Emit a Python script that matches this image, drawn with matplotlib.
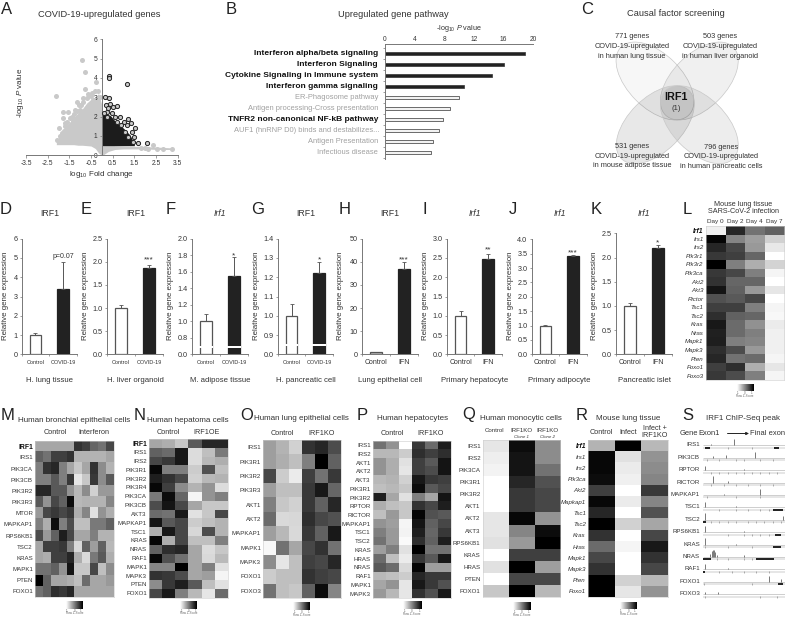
import numpy as np
import matplotlib
matplotlib.use('Agg')
import matplotlib.pyplot as plt
from matplotlib.patches import Ellipse

plt.rcParams['font.family'] = ['Liberation Sans', 'DejaVu Sans']
plt.rcParams['mathtext.fontset'] = 'custom'
plt.rcParams['mathtext.rm'] = 'Liberation Sans'
plt.rcParams['mathtext.it'] = 'Liberation Sans:italic'
plt.rcParams['mathtext.bf'] = 'Liberation Sans:bold'

W, H = 787, 622
TXT = '#333333'
AXC = '#777777'

# --- volcano (A) ---
gray_x = [-2.1, -1.9, -1.7, -1.5, -1.3, -1.1, -0.9, -0.7, -0.5, -0.3, -0.15, 0.0, 0.1, 0.3, 0.6, 1.0, 2.0, 2.6, 3.3]
gray_top = [0.7, 1.1, 1.5, 1.7, 1.95, 2.2, 2.4, 2.7, 2.9, 3.0, 3.2, 2.6, 0.6, 0.55, 0.5, 0.48, 0.45, 0.42, 0.38]
gray_low = [0.55, 0.55, 0.55, 0.55, 0.55, 0.52, 0.52, 0.5, 0.48, 0.35, 0.12, 0.0, 0.05, 0.2, 0.3, 0.33, 0.33, 0.3, 0.3]
gray_px = [-0.92, -0.78, -2.12, -0.27, -0.78, -0.32, -0.16, -0.62, -1.13, -0.86, -1.81, -1.55, -1.81, -1.96, -2.06,
           -1.86, -1.24, -1.01, -0.39, -1.47, -1.7, 2.38, 2.84, 3.26, 2.56, 2.14, -0.5, -0.95, -0.1, 1.8, 2.0,
           -1.95, -1.75, -1.6, -1.4, -1.3, -1.15, -1.05, -0.85, -0.7, -0.55, -0.45, -1.9, -1.7, -1.35]
gray_py = [4.93, 4.33, 3.07, 3.81, 3.43, 3.34, 3.34, 3.15, 2.78, 2.95, 2.26, 2.26, 1.91, 1.4, 0.8,
           1.14, 2.34, 2.34, 2.86, 1.91, 1.66, 0.53, 0.33, 0.34, 0.33, 0.33, 3.05, 2.62, 3.0, 0.4, 0.38,
           1.0, 1.25, 1.7, 2.0, 2.15, 2.3, 2.6, 2.75, 2.95, 3.1, 3.2, 0.75, 1.5, 1.8]
black_x = [0.03, 0.2, 0.4, 0.7, 1.0, 1.3, 1.5]
black_top = [2.1, 2.15, 2.05, 1.65, 1.4, 1.05, 0.6]
black_low = [0.5, 0.5, 0.5, 0.5, 0.5, 0.5, 0.5]
black_px = [0.35, 0.35, 1.15, 0.15, 0.31, 0.2, 0.38, 0.53, 0.72, 0.25, 1.22, 0.84, 1.33, 1.53, 1.15, 1.38, 1.48,
            1.68, 2.07, 1.45, 1.0, 0.68, 0.61, 0.22, 1.07, 1.22, 0.45, 0.9, 0.3, 0.12]
black_py = [4.1, 3.98, 3.69, 3.03, 2.97, 2.6, 2.65, 2.52, 2.55, 2.26, 1.86, 1.97, 1.65, 1.43, 1.57, 1.22, 0.97,
            0.66, 0.62, 0.71, 1.74, 1.74, 1.97, 2.0, 1.22, 0.97, 2.2, 1.55, 2.45, 2.2]

# --- pathway (B) ---
path_names = ['Interferon alpha/beta signaling', 'Interferon Signaling', 'Cytokine Signaling in Immune system',
              'Interferon gamma signaling', 'ER-Phagosome pathway', 'Antigen processing-Cross presentation',
              'TNFR2 non-canonical NF-kB pathway', 'AUF1 (hnRNP D0) binds and destabilizes...',
              'Antigen Presentation', 'Infectious disease']
path_vals = [18.9, 16.1, 14.4, 10.6, 10.0, 8.75, 7.8, 7.3, 6.5, 6.2]
path_bold = [1, 1, 1, 1, 0, 0, 1, 0, 0, 0]
path_dark = [1, 1, 1, 1, 0, 0, 0, 0, 0, 0]

# --- bars (D-K) ---
d_vals, d_errs = [1.0, 3.38], [1.1, 4.8]
e_vals, e_errs = [1.0, 1.87], [1.06, 1.93]
f_vals, f_errs = [1.0, 1.55], [1.09, 1.78]
g_vals, g_errs = [1.0, 1.22], [1.06, 1.28]
h_vals, h_errs = [1.0, 36.7], [1.0, 40.0]
i_vals, i_errs = [1.0, 2.48], [1.12, 2.6]
j_vals, j_errs = [1.0, 3.42], [1.03, 3.47]
k_vals, k_errs = [1.0, 2.19], [1.05, 2.25]

# --- heatmaps, percent darkness ---
l_genes = ['Irf1', 'Irs1', 'Irs2', 'Pik3r1', 'Pik3r2', 'Pik3ca', 'Akt2', 'Akt3', 'Rictor', 'Tsc1', 'Tsc2', 'Kras',
           'Nras', 'Mapk1', 'Mapk3', 'Pten', 'Foxo1', 'Foxo3']
l_vals = [[6, 85, 55, 62], [98, 48, 38, 18], [85, 72, 40, 9], [78, 75, 60, 0], [100, 50, 32, 17], [78, 72, 50, 4],
          [80, 60, 60, 0], [92, 62, 40, 10], [68, 65, 72, 0], [75, 75, 50, 4], [82, 62, 60, 3], [90, 58, 43, 8],
          [87, 58, 50, 6], [88, 50, 48, 6], [82, 70, 40, 6], [85, 55, 58, 4], [75, 82, 32, 10], [78, 70, 50, 4]]
m_genes = ['IRF1', 'IRS1', 'PIK3CA', 'PIK3CB', 'PIK3R2', 'PIK3R3', 'MTOR', 'MAPKAP1', 'RPS6KB1', 'TSC2', 'KRAS',
           'MAPK1', 'PTEN', 'FOXO1']
m_vals = [[35, 35, 35, 35, 35, 80, 75, 60, 55, 72],
          [62, 55, 75, 75, 80, 30, 30, 30, 30, 35],
          [50, 80, 85, 50, 35, 22, 35, 80, 45, 30],
          [50, 50, 65, 50, 78, 10, 22, 78, 45, 65],
          [85, 85, 65, 65, 42, 28, 45, 18, 40, 40],
          [65, 42, 72, 62, 95, 28, 30, 30, 30, 48],
          [40, 72, 78, 72, 78, 32, 48, 12, 42, 32],
          [50, 32, 95, 50, 70, 25, 25, 52, 52, 62],
          [70, 40, 62, 88, 72, 35, 35, 50, 30, 30],
          [35, 75, 75, 78, 50, 15, 62, 38, 62, 28],
          [35, 32, 75, 75, 85, 32, 15, 52, 65, 32],
          [55, 55, 62, 42, 92, 22, 22, 72, 25, 45],
          [100, 62, 35, 35, 32, 25, 58, 35, 35, 40],
          [55, 62, 82, 78, 85, 35, 35, 35, 35, 35]]
n_genes = ['IRF1', 'IRS1', 'IRS2', 'PIK3R1', 'PIK3R2', 'PIK3R4', 'PIK3CA', 'PIK3CB', 'AKT3', 'MAPKAP1', 'TSC1', 'KRAS',
           'NRAS', 'RAF1', 'MAPK1', 'MAPK3', 'PTEN', 'FOXO1']
n_vals = [[35, 32, 22, 65, 85, 85], [62, 58, 90, 14, 25, 52], [72, 78, 90, 14, 28, 32], [97, 50, 50, 20, 68, 25],
          [88, 80, 72, 18, 28, 30], [97, 75, 45, 30, 42, 14], [52, 95, 60, 4, 42, 50], [70, 92, 72, 35, 22, 22],
          [58, 55, 90, 12, 22, 72], [92, 65, 72, 20, 25, 30], [32, 90, 72, 16, 70, 30], [98, 32, 72, 25, 25, 50],
          [62, 82, 85, 35, 14, 22], [97, 68, 55, 35, 15, 27], [48, 48, 100, 35, 50, 12], [80, 78, 70, 35, 38, 4],
          [45, 78, 88, 65, 25, 12], [72, 90, 50, 28, 10, 58]]
o_genes = ['IRS1', 'PIK3R1', 'PIK3R2', 'PIK3R3', 'AKT1', 'AKT2', 'MAPKAP1', 'MAPK1', 'MAPK3', 'FOXO1', 'FOXO3']
o_vals = [[38, 30, 18, 80, 85, 70], [38, 32, 25, 50, 100, 62], [72, 20, 8, 75, 55, 78], [38, 25, 25, 78, 90, 60],
          [50, 22, 18, 78, 62, 85], [58, 15, 16, 82, 72, 68], [38, 28, 15, 78, 62, 90], [3, 55, 35, 72, 80, 55],
          [45, 10, 25, 75, 72, 85], [20, 25, 25, 80, 75, 72], [55, 25, 22, 62, 95, 48]]
p_genes = ['IRS1', 'IRS2', 'AKT1', 'AKT2', 'AKT3', 'PIK3R1', 'PIK3R2', 'RPTOR', 'RICTOR', 'MAPKAP1', 'TSC1', 'TSC2',
           'KRAS', 'HRAS', 'NRAS', 'RAF1', 'MAPK1', 'MAPK3']
p_vals = [[55, 42, 0, 78, 58, 88], [28, 28, 20, 82, 75, 82], [42, 32, 12, 75, 65, 92], [42, 32, 10, 75, 70, 92],
          [28, 30, 18, 90, 78, 75], [25, 28, 22, 95, 65, 72], [88, 35, 12, 50, 35, 92], [32, 25, 22, 80, 72, 88],
          [25, 40, 22, 98, 68, 65], [42, 38, 4, 92, 62, 72], [50, 40, 5, 88, 60, 78], [55, 40, 2, 82, 62, 88],
          [38, 50, 12, 100, 55, 55], [58, 25, 8, 78, 65, 90], [65, 58, 15, 98, 38, 38], [28, 25, 20, 85, 78, 78],
          [35, 42, 10, 90, 78, 68], [40, 28, 10, 80, 68, 90]]
q_genes = ['IRS1', 'IRS2', 'PIK3CA', 'PIK3R1', 'PIK3R2', 'AKT1', 'AKT2', 'AKT3', 'RPS6KB1', 'KRAS', 'HRAS', 'PTEN',
           'FOXO1']
q_vals = [[10, 95, 45], [7, 92, 45], [5, 92, 55], [0, 85, 68], [0, 78, 72], [0, 78, 72], [10, 97, 42], [10, 48, 95],
          [12, 40, 100], [0, 75, 75], [12, 100, 38], [0, 72, 72], [22, 100, 28]]
r_genes = ['Irf1', 'Irs1', 'Irs2', 'Pik3ca', 'Akt2', 'Mapkap1', 'Tsc1', 'Tsc2', 'Kras', 'Hras', 'Mapk1', 'Mapk3',
           'Pten', 'Foxo1']
r_vals = [[30, 100, 28], [97, 12, 42], [97, 8, 45], [95, 6, 48], [75, 0, 78], [97, 8, 48], [85, 0, 68], [100, 18, 35],
          [80, 0, 72], [58, 4, 90], [72, 0, 80], [80, 0, 72], [100, 18, 28], [100, 10, 42]]

# --- ChIP-seq tracks (S) ---
s_genes = ['IRS1', 'PIK3CB', 'RPTOR', 'RICTOR', 'MAPKAP1', 'TSC1', 'TSC2', 'RPS6KB1', 'KRAS', 'NRAS', 'RAF1', 'FOXO1',
           'FOXO3']
s_peaks = [[(0.38, 0.5), (0.1, 0.1)], [(0.63, 0.45), (0.28, 0.2), (0.12, 0.1)], [(0.02, 0.3), (0.5, 0.1)],
           [(0.12, 0.5), (0.3, 0.1)], [(0.70, 0.5), (0.25, 0.1)], [(0.02, 0.45), (0.4, 0.08)],
           [(0.03, 0.55), (0.98, 0.3)], [(0.02, 0.5), (0.5, 0.1)], [(0.02, 0.5), (0.4, 0.08)],
           [(0.09, 0.25), (0.11, 0.5), (0.12, 0.6), (0.13, 0.6), (0.15, 0.4), (0.17, 0.2), (0.5, 0.15)],
           [(0.02, 0.45), (0.3, 0.08)], [(0.8, 0.45), (0.95, 0.2)], [(0.18, 0.2), (0.02, 0.15)]]
s_blocks = [[(0.02, 0.08), (0.87, 0.93)], [], [], [], [], [(0.85, 0.97)], [(0.0, 0.04)], [(0.88, 0.95)], [(0.85, 0.95)],
            [(0.0, 0.1), (0.65, 0.87)], [(0.0, 0.03)], [(0.92, 0.97)], []]
s_exons = [[0.3, 0.6], [0.05, 0.2, 0.4, 0.5, 0.7, 0.85], [0.1, 0.2, 0.3, 0.4, 0.5, 0.6, 0.7, 0.8, 0.9],
           [0.1, 0.25, 0.4, 0.55, 0.7, 0.85], [0.05, 0.4, 0.7], [0.2, 0.4, 0.55, 0.7, 0.8],
           [0.1, 0.2, 0.3, 0.4, 0.55, 0.65, 0.75, 0.85, 0.95], [0.3, 0.5, 0.6, 0.7, 0.8],
           [0.02, 0.3, 0.6], [0.17, 0.3, 0.5, 0.6], [0.2, 0.35, 0.5, 0.65, 0.8], [0.01, 0.6], [0.02, 0.7, 0.9]]


fig = plt.figure(figsize=(W / 100, H / 100), dpi=100, facecolor='white')


def pax(x0, y0, x1, y1):
    # axes from a pixel box, y counted from the top like in the image
    return fig.add_axes([x0 / W, 1 - y1 / H, (x1 - x0) / W, (y1 - y0) / H])


over = fig.add_axes([0, 0, 1, 1], zorder=20)
over.set_xlim(0, W)
over.set_ylim(H, 0)
over.axis('off')
over.patch.set_alpha(0)


def txt(x, y, s, size=5.5, ha='center', color=TXT, **kw):
    over.text(x, y, s, fontsize=size, ha=ha, va='center', color=color, **kw)


def thin_spines(ax, show=('left', 'bottom')):
    for k, sp in ax.spines.items():
        sp.set_visible(k in show)
        sp.set_color(AXC)
        sp.set_linewidth(0.7)
    ax.patch.set_alpha(0)


for letter, x, y in [('A', 1, 9), ('B', 226, 9), ('C', 581, 9), ('D', 0, 209), ('E', 81, 209), ('F', 166, 209),
                     ('G', 251, 209), ('H', 339, 209), ('I', 423, 209), ('J', 509, 209), ('K', 591, 209),
                     ('L', 683, 209), ('M', 1, 416), ('N', 134, 416), ('O', 240, 416), ('P', 357, 415),
                     ('Q', 462, 415), ('R', 576, 415), ('S', 682, 415)]:
    txt(x, y, letter, size=12, ha='left', color='#222222')

# panel A
ax = pax(26, 39.3, 177.7, 155.3)
ax.set_xlim(-3.5, 3.5)
ax.set_ylim(0, 6)
thin_spines(ax)
ax.spines['left'].set_position(('data', 0))
ax.fill_between(gray_x, gray_low, gray_top, color='#c9c9c9', lw=0, zorder=1)
ax.scatter(gray_px, gray_py, s=13, color='#c9c9c9', lw=0, zorder=2)
ax.fill_between(black_x, black_low, black_top, color='#1c1c1c', lw=0, zorder=3)
ax.scatter(black_px, black_py, s=9, facecolor='#c9c9c9', edgecolor='#222222', lw=0.7, zorder=4)
ax.set_xticks(np.arange(-3.5, 3.6, 1))
ax.set_xticklabels(['-3.5', '-2.5', '-1.5', '-0.5', '0.5', '1.5', '2.5', '3.5'])
ax.set_yticks(range(7))
ax.tick_params(colors=TXT, labelsize=4.8, length=1.8, width=0.5, pad=1.5, color=AXC)
txt(99.5, 14.5, 'COVID-19-upregulated genes', size=6.7)
txt(102, 175, 'log$_{10}$ Fold change', size=5.8)
txt(20.5, 93, '-log$_{10}$ $P$ value', size=5.8, rotation=90)

# panel B
ax = pax(385, 44, 533.3, 159)
ax.set_xlim(0, 20)
ax.set_ylim(9.57, -0.88)
thin_spines(ax, ('left', 'top'))
ax.barh(range(10), path_vals, height=0.32, color=['#222222' if d else '#f2f2f2' for d in path_dark],
        edgecolor='#333333', lw=0.5)
ax.set_xticks(range(0, 21, 4))
ax.xaxis.tick_top()
ax.set_yticks(np.arange(-0.5, 10, 1))
ax.set_yticklabels([])
ax.tick_params(axis='y', length=1.8, width=0.5, color=AXC)
ax.tick_params(axis='x', colors=TXT, labelsize=4.8, length=0, pad=0.8)
for i, name in enumerate(path_names):
    if path_bold[i]:
        txt(378, 53.7 + 10.97 * i, name, size=6.05, ha='right', color='#111111', weight='bold')
    else:
        txt(380 if i == 7 else 378, 53.7 + 10.97 * i, name, size=5.4, ha='right', color='#a0a0a0')
txt(393, 14.3, 'Upregulated gene pathway', size=6.7)
txt(459, 29, '-log$_{10}$ $P$ value', size=5.2)

# panel C
for (cx, cy, ang, alpha) in [(655, 81, 45, 0.03), (699.3, 81, -45, 0.06), (655.3, 124.7, -45, 0.09),
                             (699.3, 124.7, 45, 0.07)]:
    over.add_patch(Ellipse((cx, cy), 96, 54, angle=ang, facecolor=(0, 0, 0, alpha), edgecolor='#c8c8c8', lw=0.5))
txt(676, 14, 'Causal factor screening', size=6.7)
for x, ys, lines in [(632, (37, 46.5, 56), ('771 genes', 'COVID-19-upregulated', 'in human lung tissue')),
                     (720, (37, 46.5, 56), ('503 genes', 'COVID-19-upregulated', 'in human liver organoid')),
                     (632.5, (146.7, 156, 165.5), ('531 genes', 'COVID-19-upregulated', 'in mouse adipose tissue')),
                     (721, (147.7, 157, 166.7), ('796 genes', 'COVID-19-upregulated', 'in human pancreatic cells'))]:
    for y, s in zip(ys, lines):
        txt(x, y, s, size=5.3)
txt(676, 97.5, 'IRF1', size=7.8, weight='bold', color='#111111')
txt(676, 108, '(1)', size=5.5)


# panels D-K
def bars(x0, x1, top, bottom, vals, errs, ylim, ticks, ticklabels, xnames, title, sub, mark, mark_y, small=False,
         italic=False, brk=None, ctrl_color='white', label_x=None):
    ax = pax(x0, top, x1, bottom)
    ax.set_xlim(0, 2)
    ax.set_ylim(*ylim)
    thin_spines(ax)
    ax.bar([0.5, 1.5], vals, width=0.42, color=[ctrl_color, '#222222'], edgecolor=['#555555', '#222222'], lw=0.9)
    ax.errorbar([0.5, 1.5], vals, yerr=[[0, 0], [e - v for e, v in zip(errs, vals)]], fmt='none', ecolor='#555555',
                elinewidth=0.7, capsize=1.2, capthick=0.6)
    if brk:
        ax.bar([0.5, 1.5], brk[1] - brk[0], bottom=brk[0], width=0.5, color='white', lw=0)
    ax.set_xticks([0, 1, 2])
    ax.set_xticklabels([])
    ax.set_yticks(ticks)
    ax.set_yticklabels(ticklabels)
    ax.tick_params(axis='y', colors=TXT, labelsize=5.2, length=1.8, width=0.5, pad=1.2, color=AXC)
    ax.tick_params(axis='x', length=1.5, width=0.5, color=AXC)
    xc = (x0 + x1) / 2
    for off, name in zip((-0.25, 0.25), xnames):
        txt(xc + off * (x1 - x0), 362, name, size=4.0 if small else 5.0)
    txt(xc + 0.5, 213, title, size=6.3, style='italic' if italic else 'normal')
    txt(xc + 0.5, 380, sub, size=5.6)
    txt(label_x if label_x else x0 - 21.5, 296, 'Relative gene expression', size=5.7, rotation=90)
    txt(xc + 0.25 * (x1 - x0), mark_y, mark, size=5 if mark[0] == 'p' else 6)


cc = ['Control', 'COVID-19']
ci = ['Control', 'IFN']
bars(21.7, 76.7, 238.7, 354.3, d_vals, d_errs, (0, 6), range(7), [str(t) for t in range(7)], cc, 'IRF1',
     'H. lung tissue', 'p=0.07', 256.7, small=True, label_x=6)
bars(106.7, 163, 238.7, 354.3, e_vals, e_errs, (0, 2.5), [0, .5, 1, 1.5, 2, 2.5],
     ['0.0', '0.5', '1.0', '1.5', '2.0', '2.5'], cc, 'IRF1', 'H. liver organoid', '***', 259.7, small=True)
# F and G have a broken y axis, so values go through the offset below
bars(191.7, 248, 238.7, 354.3, [(v - 0.6) / 0.2 for v in f_vals], [(v - 0.6) / 0.2 for v in f_errs], (0, 7), range(8),
     ['0.0', '0.8', '1.0', '1.2', '1.4', '1.6', '1.8', '2.0'], cc, 'Irf1', 'M. adipose tissue', '*', 256, small=True,
     italic=True, brk=(0.38, 0.52))
bars(277.7, 333, 238.7, 354.3, [(v - 0.8) / 0.1 for v in g_vals], [(v - 0.8) / 0.1 for v in g_errs], (0, 6), range(7),
     ['0.0', '0.9', '1.0', '1.1', '1.2', '1.3', '1.4'], cc, 'IRF1', 'H. pancreatic cell', '*', 259.7, small=True,
     brk=(0.42, 0.56))
bars(361.7, 417.7, 238.7, 354.3, h_vals, h_errs, (0, 50), range(0, 51, 10), [str(t) for t in range(0, 51, 10)], ci,
     'IRF1', 'Lung epithelial cell', '***', 260.3, ctrl_color='#bbbbbb')
bars(446.7, 502, 238.7, 354.3, i_vals, i_errs, (0, 3), [0, .5, 1, 1.5, 2, 2.5, 3],
     ['0.0', '0.5', '1.0', '1.5', '2.0', '2.5', '3.0'], ci, 'Irf1', 'Primary hepatocyte', '**', 250.3, italic=True)
bars(531.5, 586.7, 239.3, 354.3, j_vals, j_errs, (0, 4), np.arange(0, 4.1, 0.5),
     ['0.0', '0.5', '1.0', '1.5', '2.0', '2.5', '3.0', '3.5', '4.0'], ci, 'Irf1', 'Primary adipocyte', '***', 253,
     italic=True)
bars(616, 671.7, 233.3, 354.3, k_vals, k_errs, (0, 2.5), [0, .5, 1, 1.5, 2, 2.5],
     ['0.0', '0.5', '1.0', '1.5', '2.0', '2.5'], ci, 'Irf1', 'Pancreatic islet', '*', 243, italic=True)


# heatmaps L-R
def heat(box, vals, genes, italic=False, bar=None):
    x0, y0, x1, y1 = box
    ax = pax(x0, y0, x1, y1)
    ax.imshow(np.array(vals), cmap='gray_r', vmin=0, vmax=100, aspect='auto', interpolation='nearest')
    ax.set_xticks([])
    ax.set_yticks(range(len(genes)))
    ax.set_yticklabels(genes)
    ax.tick_params(axis='y', length=0, pad=1.5, labelsize=4.4, labelcolor=TXT)
    for lab in ax.get_yticklabels():
        if italic:
            lab.set_style('italic')
    first = ax.get_yticklabels()[0]
    if genes[0] in ('IRF1', 'Irf1'):
        first.set_weight('bold')
        first.set_color('#111111')
        first.set_fontsize(4.9)
    for sp in ax.spines.values():
        sp.set_color('#cccccc')
        sp.set_linewidth(0.4)
    if bar:
        cb = pax(*bar)
        cb.imshow(np.linspace(0, 100, 32)[None, :], cmap='gray_r', vmin=0, vmax=100, aspect='auto')
        cb.axis('off')
        bx = (bar[0] + bar[2]) / 2
        w = bar[2] - bar[0]
        for off, s in zip((-0.4, 0, 0.4), ('-1', '0', '1')):
            txt(bx + off * w, bar[3] + 2.3, s, size=2.2, color='#666666')
        txt(bx, bar[3] + 5, 'Row Z-Score', size=2.2, color='#666666')


heat((705.7, 226, 784, 380), l_vals, l_genes, italic=True, bar=(736.7, 384, 753, 391))
heat((35, 440.7, 114, 597), m_vals, m_genes, bar=(65.7, 601, 82.7, 608.5))
heat((149, 439, 228, 597.7), n_vals, n_genes, bar=(180, 601, 197, 608.5))
heat((263, 440, 341, 598), o_vals, o_genes, bar=(293, 602, 310, 610))
heat((373, 440.7, 451, 598), p_vals, p_genes, bar=(403, 601, 421, 609))
heat((482.7, 440, 560, 597), q_vals, q_genes, bar=(513, 602, 530.7, 610))
heat((588, 440, 667.7, 597), r_vals, r_genes, italic=True, bar=(620, 601.7, 636.7, 609))

txt(743, 204, 'Mouse lung tissue', size=5.2)
txt(743, 211.7, 'SARS-CoV-2 infection', size=5.2)
for x, s in zip((715.7, 735.5, 754.5, 774), ('Day 0', 'Day 2', 'Day 4', 'Day 7')):
    txt(x, 221.7, s, size=4.6)
txt(74, 420, 'Human bronchial epithelial cells', size=5.8)
txt(187.7, 420, 'Human hepatoma cells', size=5.8)
txt(301, 419, 'Human lung epithelial cells', size=5.8)
txt(413, 419, 'Human hepatocytes', size=5.8)
txt(521, 418.5, 'Human monocytic cells', size=5.8)
txt(628, 418.5, 'Mouse lung tissue', size=5.8)
txt(742.7, 418.5, 'IRF1 ChIP-Seq peak', size=5.8)
for x, y, s in [(55, 432, 'Control'), (94.3, 432, 'Interferon'), (168, 432, 'Control'), (207, 432, 'IRF1OE'),
                (282.7, 433.5, 'Control'), (321.7, 433.5, 'IRF1KO'), (392.7, 433.5, 'Control'), (431, 433.5, 'IRF1KO'),
                (601.7, 432.5, 'Control'), (628, 432.5, 'Infect'), (655, 432, 'Infect +\nIRF1KO')]:
    over.text(x, y, s, fontsize=5.2, ha='center', va='center', color=TXT, linespacing=0.95)
txt(495, 430, 'Control', size=4.4)
txt(521.7, 430, 'IRF1KO', size=4.4)
txt(547, 430, 'IRF1KO', size=4.4)
txt(521.7, 436.8, 'Clone 1', size=3.2, style='italic')
txt(547, 436.8, 'Clone 2', size=3.2, style='italic')

# panel S
txt(689, 433.5, 'Gene', size=5.4)
txt(709, 433.5, 'Exon1', size=5.4)
txt(768, 433.5, 'Final exon', size=5.4)
over.annotate('', xy=(749, 433.5), xytext=(727.5, 433.5), arrowprops=dict(arrowstyle='-|>', color='#222222', lw=0.7,
                                                                          mutation_scale=4, shrinkA=0, shrinkB=0))
ax = pax(703, 438.8, 785, 600.2)
ax.set_xlim(0, 1)
ax.set_ylim(12.5, -0.5)
ax.axis('off')
for i, gene in enumerate(s_genes):
    txt(700, 445 + 12.4 * i, gene, size=4.4, ha='right')
    ax.hlines(i + 0.02, 0, 1, color='#aaaaaa', lw=0.4)
    ax.hlines(i + 0.22, 0, 1, color='#999999', lw=0.35)
    for pos, h in s_peaks[i]:
        ax.vlines(pos, i + 0.02 - h, i + 0.02, color='#444444', lw=0.5)
    for a, b in s_blocks[i]:
        ax.hlines(i + 0.22, a, b, color='#111111', lw=1.3)
    ax.vlines(s_exons[i], i + 0.14, i + 0.3, color='#777777', lw=0.4)

fig.savefig('out.png', dpi=100, facecolor='white')
